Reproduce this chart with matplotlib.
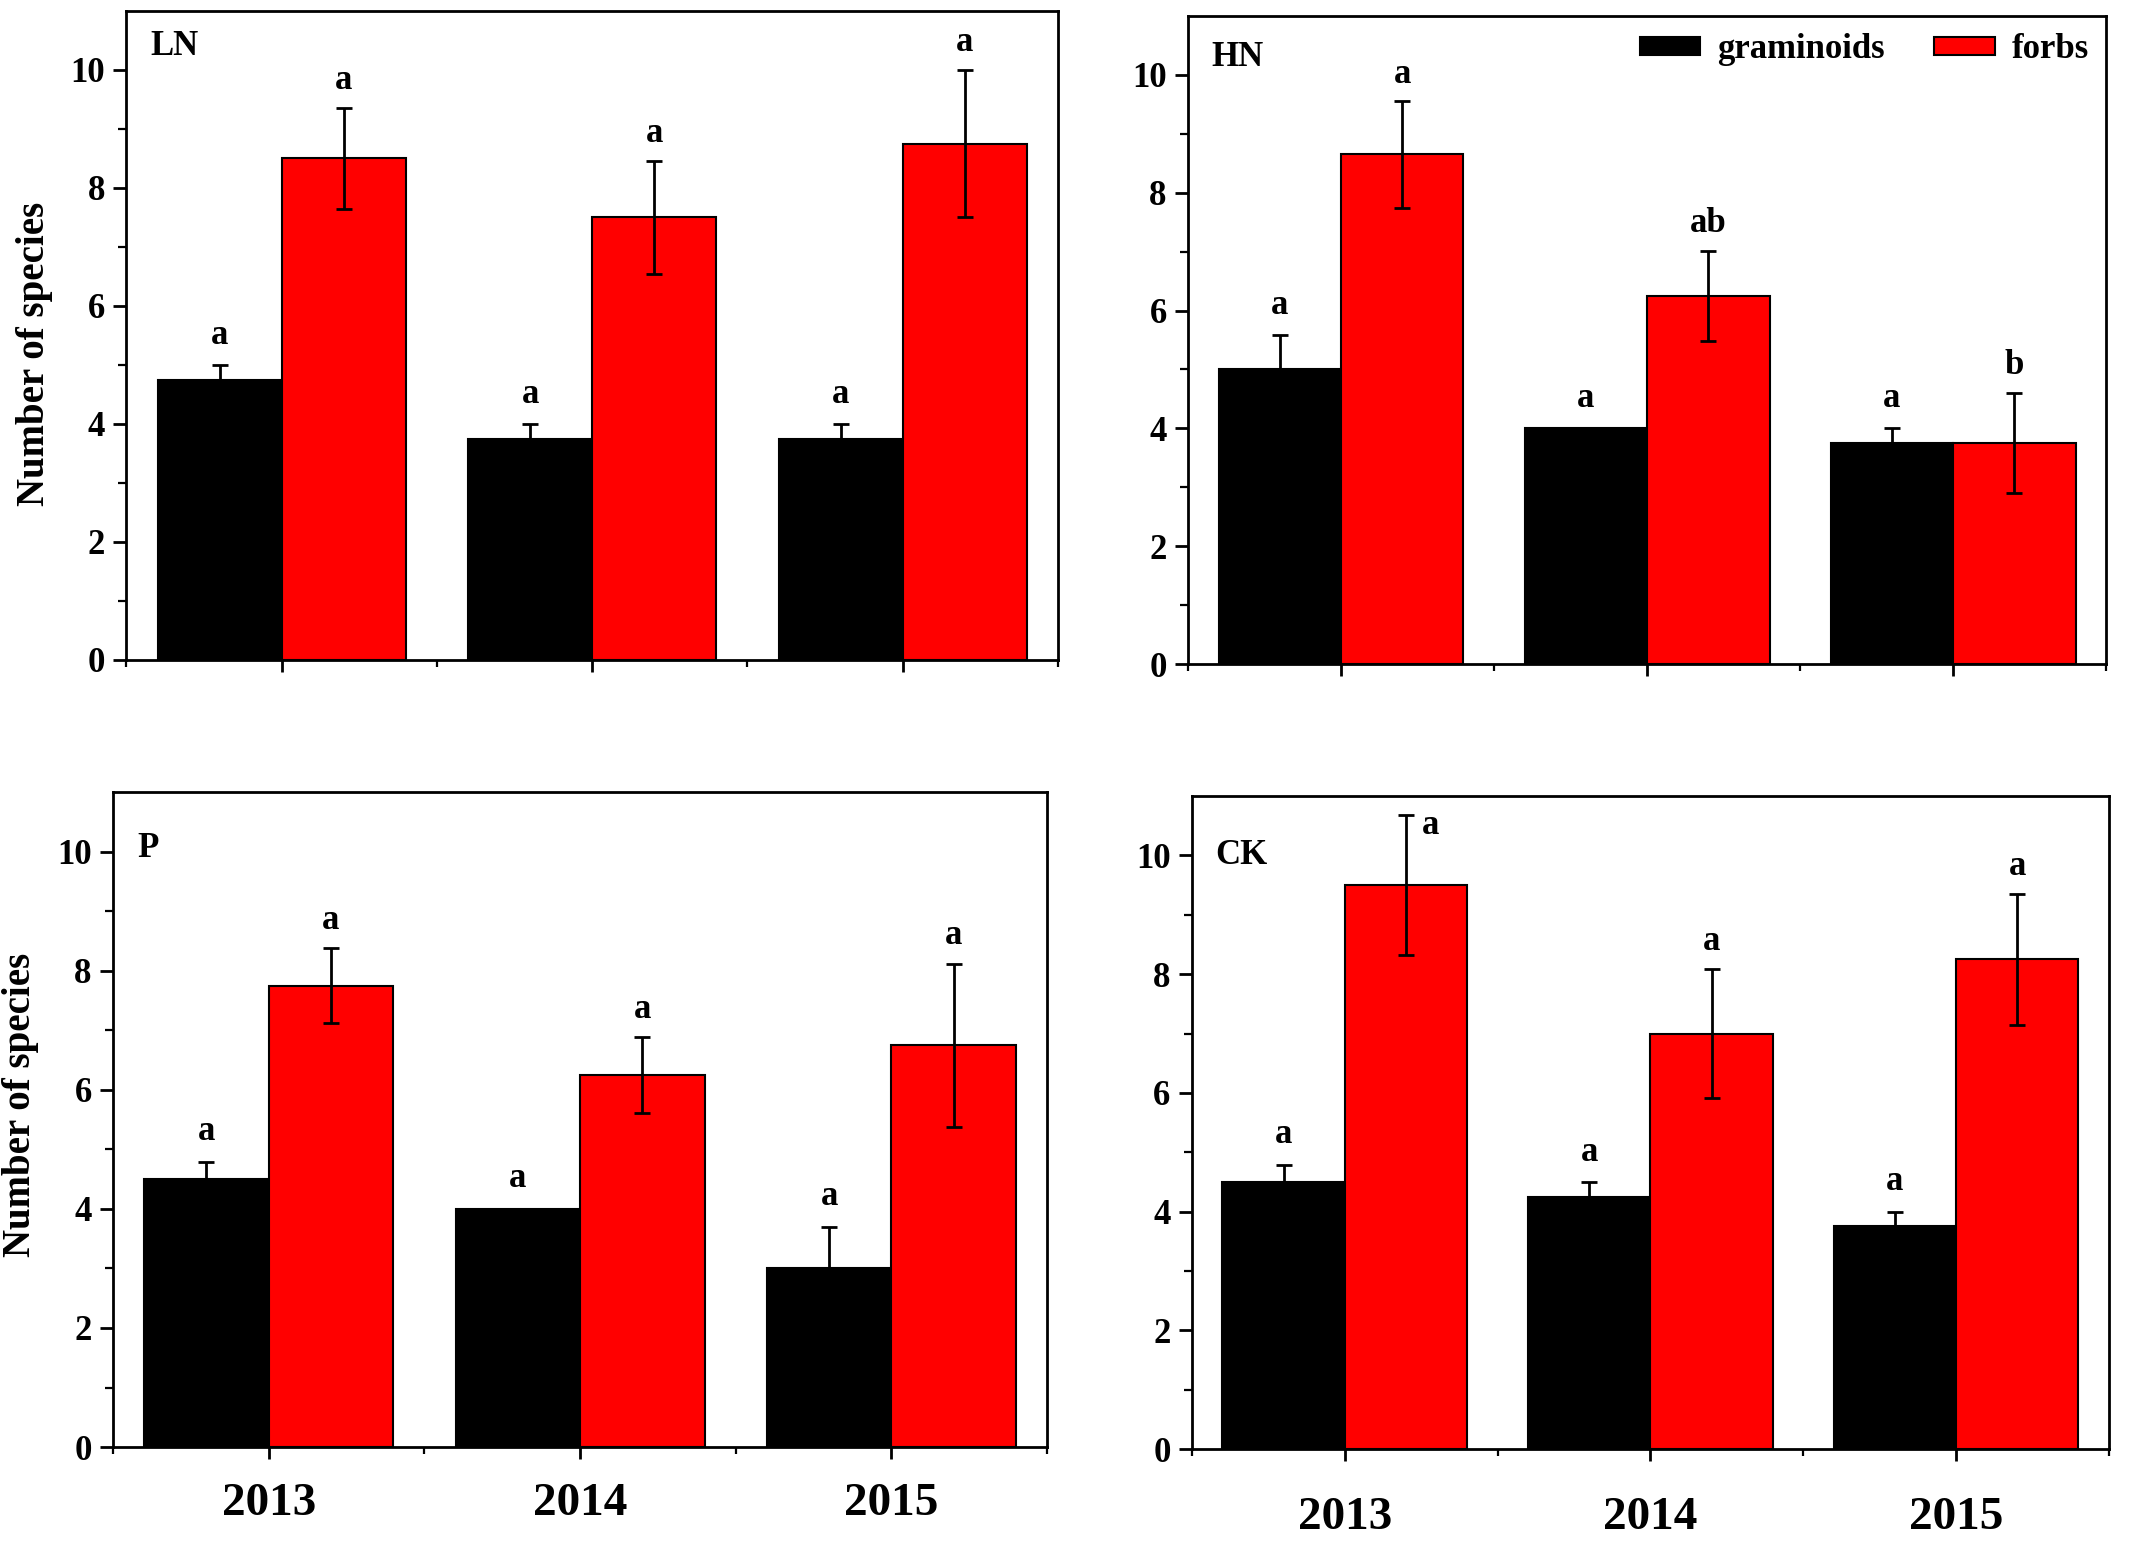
import matplotlib
matplotlib.use("Agg")
import matplotlib.pyplot as plt
import numpy as np
from matplotlib.ticker import FixedLocator
from matplotlib.patches import Patch

plt.rcParams['font.family'] = ['Liberation Serif', 'DejaVu Serif']
plt.rcParams['font.weight'] = 'bold'

# ---------------- data ----------------
years = ['2013', '2014', '2015']
series_names = ['graminoids', 'forbs']
panel_names = ['LN', 'HN', 'P', 'CK']

gram_LN = [4.75, 3.75, 3.75]
gram_LN_err = [0.25, 0.25, 0.25]
forb_LN = [8.5, 7.5, 8.75]
forb_LN_err = [0.86, 0.96, 1.25]
gram_LN_letters = ['a', 'a', 'a']
forb_LN_letters = ['a', 'a', 'a']

gram_HN = [5.0, 4.0, 3.75]
gram_HN_err = [0.58, 0.0, 0.25]
forb_HN = [8.65, 6.25, 3.75]
forb_HN_err = [0.9, 0.77, 0.85]
gram_HN_letters = ['a', 'a', 'a']
forb_HN_letters = ['a', 'ab', 'b']

gram_P = [4.5, 4.0, 3.0]
gram_P_err = [0.29, 0.0, 0.7]
forb_P = [7.75, 6.25, 6.75]
forb_P_err = [0.63, 0.64, 1.37]
gram_P_letters = ['a', 'a', 'a']
forb_P_letters = ['a', 'a', 'a']

gram_CK = [4.5, 4.25, 3.75]
gram_CK_err = [0.29, 0.25, 0.25]
forb_CK = [9.5, 7.0, 8.25]
forb_CK_err = [1.18, 1.08, 1.1]
gram_CK_letters = ['a', 'a', 'a']
forb_CK_letters = ['a', 'a', 'a']

panel_data = {
    'LN': (gram_LN, gram_LN_err, forb_LN, forb_LN_err, gram_LN_letters, forb_LN_letters),
    'HN': (gram_HN, gram_HN_err, forb_HN, forb_HN_err, gram_HN_letters, forb_HN_letters),
    'P': (gram_P, gram_P_err, forb_P, forb_P_err, gram_P_letters, forb_P_letters),
    'CK': (gram_CK, gram_CK_err, forb_CK, forb_CK_err, gram_CK_letters, forb_CK_letters),
}

# ---------------- layout / style ----------------
W, H = 2133, 1546
axes_rects = {
    'LN': [0.0593, 0.5731, 0.4367, 0.4198],
    'HN': [0.5570, 0.5705, 0.4304, 0.4191],
    'P':  [0.0530, 0.0640, 0.4379, 0.4237],
    'CK': [0.5588, 0.0627, 0.4299, 0.4224],
}
panel_label_y = {'LN': 10.4, 'HN': 10.3, 'P': 10.05, 'CK': 10.0}
ylabel_y = {'LN': 0.471, 'P': 0.522}
xlabel_pad = {'P': 17, 'CK': 26}

BLACK = '#000000'
RED = '#FF0000'
width = 0.4
x = np.arange(1, len(years) + 1)

fig = plt.figure(figsize=(W / 100, H / 100), dpi=100)

for name in panel_names:
    g, ge, f, fe, gl, fl = panel_data[name]
    ax = fig.add_axes(axes_rects[name])
    ax.bar(x - width / 2, g, width, color=BLACK, edgecolor=BLACK, linewidth=1.5, zorder=2)
    ax.bar(x + width / 2, f, width, color=RED, edgecolor=BLACK, linewidth=1.5, zorder=2)
    ax.errorbar(x - width / 2, g, yerr=ge, fmt='none', ecolor=BLACK, elinewidth=2.0,
                capsize=6, capthick=2.0, zorder=3)
    ax.errorbar(x + width / 2, f, yerr=fe, fmt='none', ecolor=BLACK, elinewidth=2.0,
                capsize=6, capthick=2.0, zorder=3)

    for i in range(len(years)):
        ax.text(x[i] - width / 2, g[i] + ge[i] + 0.36, gl[i], ha='center', va='baseline',
                fontsize=25, fontweight='bold')
        top = f[i] + fe[i] + 0.32
        xf = x[i] + width / 2
        if top > 10.6:
            top = f[i] + fe[i] - 0.32
            xf = xf + 0.08
        ax.text(xf, top, fl[i], ha='center', va='baseline', fontsize=25, fontweight='bold')

    ax.text(0.577, panel_label_y[name], name, ha='left', va='center', fontsize=25,
            fontweight='bold')

    ax.set_xlim(0.5, 3.5)
    ax.set_ylim(0, 11)
    ax.yaxis.set_major_locator(FixedLocator([0, 2, 4, 6, 8, 10]))
    ax.yaxis.set_minor_locator(FixedLocator([1, 3, 5, 7, 9]))
    ax.xaxis.set_major_locator(FixedLocator(list(x)))
    ax.xaxis.set_minor_locator(FixedLocator([0.5, 1.5, 2.5, 3.5]))
    ax.tick_params(axis='y', which='major', direction='out', length=9.4, width=2.0,
                   labelsize=25, pad=6)
    ax.tick_params(axis='y', which='minor', direction='out', length=6, width=1.6)
    ax.tick_params(axis='x', which='major', direction='out', length=8.6, width=2.0,
                   labelsize=34, pad=xlabel_pad.get(name, 16))
    ax.tick_params(axis='x', which='minor', direction='out', length=5, width=1.6)
    ax.tick_params(top=False, right=False)
    for sp in ax.spines.values():
        sp.set_linewidth(2.0)
    for lab in ax.get_yticklabels():
        lab.set_fontweight('bold')

    if name in ('P', 'CK'):
        ax.set_xticklabels(years, fontsize=34, fontweight='bold')
    else:
        ax.set_xticklabels([])

    if name in ylabel_y:
        ax.set_ylabel('Number of species', fontsize=28, fontweight='bold')
        ax.yaxis.set_label_coords(-0.099, ylabel_y[name])
        ax.yaxis.label.set_va('center')

    if name == 'HN':
        handles = [Patch(facecolor=BLACK, edgecolor=BLACK, linewidth=1.5, label=series_names[0]),
                   Patch(facecolor=RED, edgecolor=BLACK, linewidth=1.5, label=series_names[1])]
        ax.legend(handles=handles, loc='upper right', bbox_to_anchor=(1.0, 1.0),
                  ncol=2, frameon=False, prop={'weight': 'bold', 'size': 25},
                  handlelength=1.74, handleheight=0.4, handletextpad=0.48,
                  columnspacing=1.43, borderaxespad=0.1)

fig.savefig('out.png', dpi=100)
